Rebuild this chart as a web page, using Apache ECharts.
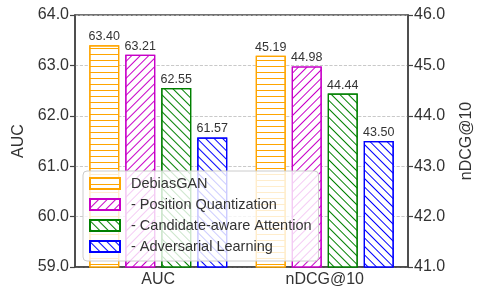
<!DOCTYPE html>
<html>
<head>
<meta charset="utf-8">
<script src="https://cdn.jsdelivr.net/npm/echarts@6/dist/echarts.min.js"></script>
<style>
  html, body { margin: 0; padding: 0; background: #fff; }
  #chart { width: 483px; height: 293px; }
</style>
</head>
<body>
<div id="chart"></div>
<script>
const categories = ['AUC', 'nDCG@10'];
const seriesNames = ['DebiasGAN', '- Position Quantization', '- Candidate-aware Attention', '- Adversarial Learning'];
const aucValues = [63.40, 63.21, 62.55, 61.57];
const ndcgValues = [45.19, 44.98, 44.44, 43.50];
const aucTicks = [59, 64];
const ndcgTicks = [41, 46];

const colors = ['#FFA500', '#C800C8', '#008000', '#0000FF'];
// hatch rotation per series: horizontal, '/', '\', '\'
const rotations = [0, -Math.PI / 4, Math.PI / 4, Math.PI / 4];

const fontFamily = '"Liberation Sans", Arial, sans-serif';

function hatch(i) {
    return {
        symbol: 'rect',
        symbolSize: 1,
        dashArrayX: [1, 0],
        dashArrayY: [0.9, i === 0 ? 5 : 4.8],
        rotation: rotations[i],
        color: colors[i]
    };
}

function makeSeries(i, values, pos, yIndex) {
    const data = categories.map((c, k) => (k === pos ? values[i] : '-'));
    return {
        name: seriesNames[i],
        type: 'bar',
        yAxisIndex: yIndex,
        stack: 's' + i,
        barWidth: 30,
        barGap: '20%',
        data: data,
        itemStyle: {
            color: '#fff',
            borderColor: colors[i],
            borderWidth: 1.2,
            decal: hatch(i)
        },
        label: {
            show: true,
            position: 'top',
            distance: 2,
            color: '#333',
            fontSize: 12.5,
            fontFamily: fontFamily,
            formatter: p => Number(p.value).toFixed(2)
        }
    };
}

const series = [];
for (let i = 0; i < seriesNames.length; i++) {
    series.push(makeSeries(i, aucValues, 0, 0));
    series.push(makeSeries(i, ndcgValues, 1, 1));
}

const axisCommon = {
    type: 'value',
    interval: 1,
    nameLocation: 'middle',
    nameRotate: 90,
    nameTextStyle: { color: '#333', fontSize: 16, fontFamily: fontFamily },
    axisLine: { show: true, lineStyle: { color: '#444', width: 1.5 } },
    axisTick: { show: true, length: 5, lineStyle: { color: '#444', width: 1.2 } },
    axisLabel: {
        color: '#333', fontSize: 16, fontFamily: fontFamily, margin: 6,
        formatter: v => v.toFixed(1)
    }
};

const chart = echarts.init(document.getElementById('chart'));
chart.setOption({
    animation: false,
    textStyle: { fontFamily: fontFamily },
    grid: {
        left: 75, right: 65, top: 15, bottom: 26,
        show: true, borderColor: '#444', borderWidth: 1.5, backgroundColor: '#fff'
    },
    legend: {
        orient: 'vertical',
        left: 83,
        top: 171,
        icon: 'rect',
        itemWidth: 30,
        itemHeight: 11,
        itemGap: 6,
        padding: [5, 7, 7, 6],
        backgroundColor: 'rgba(255,255,255,0.8)',
        borderColor: '#ccc',
        borderWidth: 1,
        borderRadius: 4,
        textStyle: { color: '#333', fontSize: 14.5, fontFamily: fontFamily, padding: [0, 0, 0, 6] },
        data: seriesNames
    },
    xAxis: {
        type: 'category',
        data: categories,
        axisLine: { lineStyle: { color: '#444', width: 1.5 } },
        axisTick: { alignWithLabel: true, length: 4, lineStyle: { color: '#444' } },
        axisLabel: { color: '#333', fontSize: 16, fontFamily: fontFamily, margin: 5 }
    },
    yAxis: [
        Object.assign({}, axisCommon, {
            name: 'AUC', position: 'left', min: aucTicks[0], max: aucTicks[1], nameGap: 47,
            splitLine: { show: true, lineStyle: { color: '#bbb', type: 'dashed', width: 0.8 } }
        }),
        Object.assign({}, axisCommon, {
            name: 'nDCG@10', position: 'right', min: ndcgTicks[0], max: ndcgTicks[1], nameGap: 51,
            splitLine: { show: false }
        })
    ],
    series: series
});
</script>
</body>
</html>
